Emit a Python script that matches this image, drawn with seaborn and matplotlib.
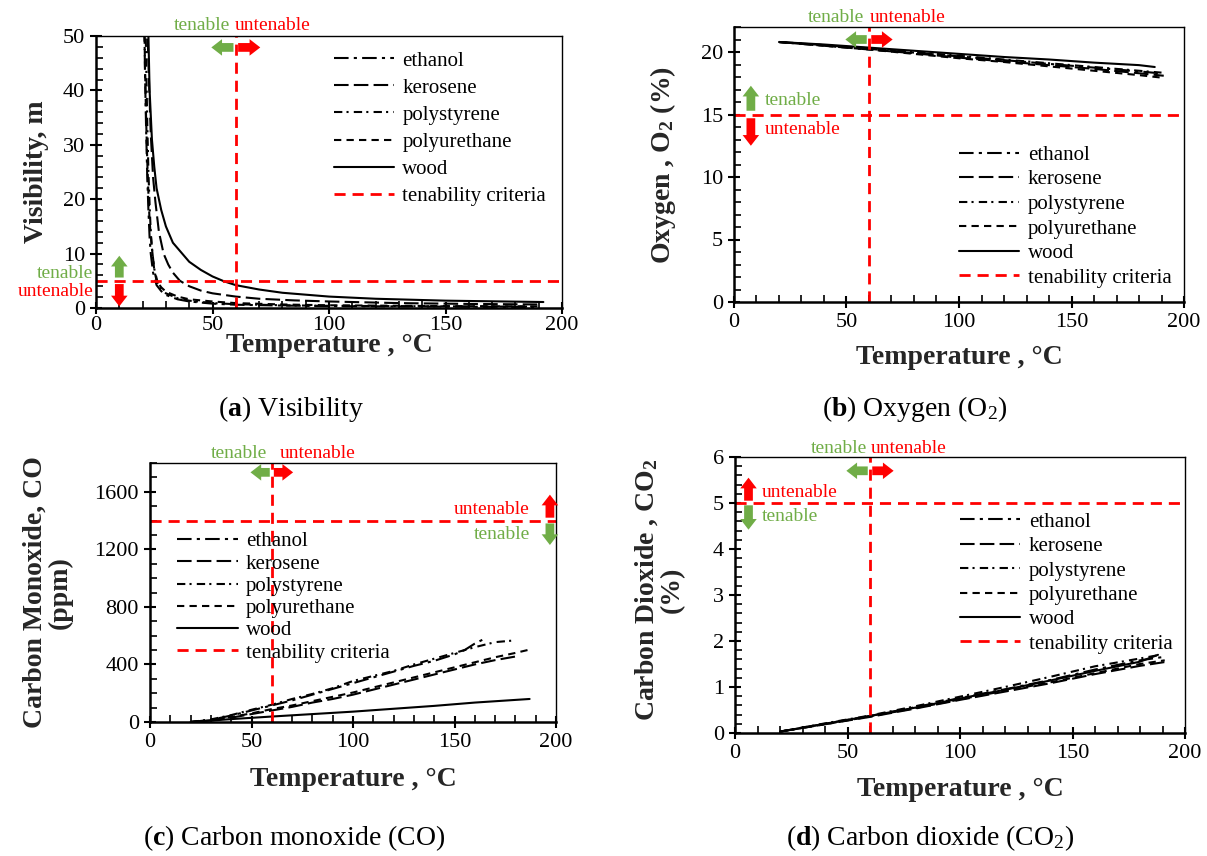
import matplotlib
matplotlib.use("Agg")
import matplotlib.pyplot as plt
import pandas as pd
import seaborn as sns
from matplotlib.lines import Line2D
from matplotlib.ticker import MultipleLocator

sns.set_theme(style="ticks")
plt.rcParams['font.family'] = ['Liberation Serif', 'DejaVu Serif']
plt.rcParams['mathtext.fontset'] = 'custom'
plt.rcParams['mathtext.rm'] = 'Liberation Serif'
plt.rcParams['mathtext.bf'] = 'Liberation Serif:bold'
plt.rcParams['mathtext.it'] = 'Liberation Serif:italic'
plt.rcParams['text.color'] = 'black'
plt.rcParams['axes.edgecolor'] = 'black'
plt.rcParams['xtick.color'] = 'black'
plt.rcParams['ytick.color'] = 'black'

GREEN = '#70AD47'
RED = '#FF0000'

fuels = ['ethanol', 'kerosene', 'polystyrene', 'polyurethane', 'wood']
legend_labels = fuels + ['tenability criteria']

# ---------------- (a) Visibility [m] vs temperature [°C] ----------------
vis_T = {
    'ethanol':      [20.5, 21, 21.5, 22, 22.5, 23, 23.5, 24.5, 26, 28, 30, 35, 40, 50, 60, 80, 100, 150, 190],
    'kerosene':     [21.5, 22.5, 23.5, 24.5, 25.5, 27, 29, 31, 33, 36, 40, 45, 50, 60, 70, 85, 100, 130, 160, 190],
    'polystyrene':  [21, 21.5, 22, 22.5, 23, 23.5, 24, 25, 26.5, 28, 30, 35, 40, 50, 60, 80, 100, 150, 185],
    'polyurethane': [20.5, 21, 21.5, 22, 22.5, 23, 24, 25, 26, 28, 30, 35, 40, 50, 60, 80, 100, 150, 190],
    'wood':         [22, 22.5, 23, 24, 25, 26, 28, 30, 33, 36, 40, 45, 50, 55, 60, 70, 80, 100, 120, 150, 175, 192],
}
vis_V = {
    'ethanol':      [60, 44, 33, 24, 18, 13, 10, 6.5, 4.2, 3.1, 2.4, 1.6, 1.2, 0.8, 0.6, 0.45, 0.35, 0.25, 0.2],
    'kerosene':     [60, 45, 32, 24, 19.5, 14, 10, 8, 6.5, 5, 4, 3.2, 2.7, 2.1, 1.7, 1.4, 1.2, 0.9, 0.75, 0.65],
    'polystyrene':  [60, 46, 34, 25, 19, 14, 11, 7.2, 4.6, 3.5, 2.7, 1.8, 1.35, 0.9, 0.7, 0.5, 0.4, 0.3, 0.25],
    'polyurethane': [60, 45, 35, 27, 21, 16, 11, 7, 5, 3.8, 3.0, 2.1, 1.6, 1.2, 0.9, 0.65, 0.5, 0.35, 0.3],
    'wood':         [60, 50, 40, 31, 26, 22, 18, 15, 12, 10.5, 8.5, 7, 5.8, 4.9, 4.2, 3.4, 2.8, 2.1, 1.7, 1.35, 1.2, 1.1],
}

# ---------------- (b) Oxygen [%] ----------------
o2_T = {
    'ethanol':      [20, 40, 60, 80, 100, 120, 140, 160, 180, 189],
    'kerosene':     [20, 40, 60, 80, 100, 120, 140, 160, 180, 191],
    'polystyrene':  [20, 40, 60, 80, 100, 120, 140, 160, 180, 190],
    'polyurethane': [20, 40, 60, 80, 100, 120, 140, 160, 180, 190],
    'wood':         [20, 40, 60, 80, 100, 120, 140, 160, 180, 187],
}
o2_V = {
    'ethanol':      [20.8, 20.55, 20.25, 19.95, 19.65, 19.35, 19.05, 18.75, 18.45, 18.3],
    'kerosene':     [20.8, 20.5, 20.2, 19.9, 19.55, 19.25, 18.95, 18.65, 18.3, 18.1],
    'polystyrene':  [20.8, 20.55, 20.3, 20.0, 19.7, 19.4, 19.1, 18.8, 18.5, 18.35],
    'polyurethane': [20.8, 20.5, 20.2, 19.85, 19.5, 19.2, 18.85, 18.5, 18.15, 17.95],
    'wood':         [20.8, 20.6, 20.35, 20.1, 19.85, 19.6, 19.4, 19.15, 18.95, 18.8],
}

# ---------------- (c) Carbon monoxide [ppm] ----------------
co_T = {
    'ethanol':      [20, 30, 40, 50, 60, 70, 80, 90, 100, 110, 120, 130, 140, 150, 155, 160, 165],
    'kerosene':     [20, 30, 40, 50, 60, 70, 80, 90, 100, 110, 120, 130, 140, 150, 160, 170, 180],
    'polystyrene':  [20, 30, 40, 50, 60, 70, 80, 90, 100, 110, 120, 130, 140, 150, 160, 170, 178],
    'polyurethane': [20, 30, 40, 50, 60, 70, 80, 90, 100, 110, 120, 130, 140, 150, 160, 170, 180, 186],
    'wood':         [20, 40, 60, 80, 100, 120, 140, 160, 187],
}
co_V = {
    'ethanol':      [0, 15, 45, 80, 115, 150, 190, 230, 270, 310, 350, 390, 425, 470, 500, 545, 580],
    'kerosene':     [0, 10, 30, 55, 80, 105, 135, 160, 190, 225, 260, 295, 330, 365, 400, 430, 455],
    'polystyrene':  [0, 18, 48, 85, 120, 160, 195, 235, 285, 320, 355, 400, 440, 480, 520, 555, 565],
    'polyurethane': [0, 12, 35, 60, 90, 115, 145, 175, 205, 240, 275, 310, 345, 380, 415, 450, 480, 500],
    'wood':         [0, 20, 38, 55, 72, 92, 112, 135, 160],
}

# ---------------- (d) Carbon dioxide [%] ----------------
co2_T = {
    'ethanol':      [20, 40, 60, 80, 100, 120, 140, 160, 180, 190],
    'kerosene':     [20, 40, 60, 80, 100, 120, 140, 160, 180, 192],
    'polystyrene':  [20, 40, 60, 80, 100, 120, 140, 160, 180, 189],
    'polyurethane': [20, 40, 60, 80, 100, 120, 140, 160, 180, 191],
    'wood':         [20, 40, 60, 80, 100, 120, 140, 160, 180, 188],
}
co2_V = {
    'ethanol':      [0.03, 0.2, 0.37, 0.56, 0.76, 0.95, 1.15, 1.38, 1.58, 1.65],
    'kerosene':     [0.03, 0.19, 0.35, 0.53, 0.72, 0.9, 1.08, 1.28, 1.46, 1.55],
    'polystyrene':  [0.03, 0.21, 0.38, 0.58, 0.79, 1.0, 1.22, 1.45, 1.62, 1.7],
    'polyurethane': [0.03, 0.19, 0.36, 0.54, 0.73, 0.92, 1.1, 1.3, 1.5, 1.58],
    'wood':         [0.03, 0.2, 0.37, 0.55, 0.75, 0.94, 1.14, 1.35, 1.55, 1.7],
}

dash_map = {
    'ethanol': (7, 2.5, 1.5, 2.5),
    'kerosene': (7, 2.5),
    'polystyrene': (4, 2, 1, 2.5),
    'polyurethane': (3.5, 2.5),
    'wood': '',
}
RED_DASH = (0, (4, 2.5))
LABEL_FS = 20
LEG_FS = 15


def long_df(Td, Vd):
    rows = []
    for f in fuels:
        for t, v in zip(Td[f], Vd[f]):
            rows.append((f, t, v))
    return pd.DataFrame(rows, columns=['fuel', 'T', 'val'])


fig = plt.figure(figsize=(12.07, 8.56), dpi=100)
W, H = 1207, 856


def add_ax(l, r, t, b):
    return fig.add_axes([l / W, 1 - b / H, (r - l) / W, (b - t) / H])


axa = add_ax(96, 562, 36, 308)
axb = add_ax(734, 1184, 27, 302)
axc = add_ax(150, 556, 463, 722)
axd = add_ax(735, 1185, 457, 733)


def draw(ax, Td, Vd, ylim, ymajor, yminor, crit):
    df = long_df(Td, Vd)
    sns.lineplot(data=df, x='T', y='val', style='fuel', style_order=fuels,
                 dashes=dash_map, color='black', estimator=None, sort=False,
                 legend=False, lw=1.5, ax=ax)
    ax.axvline(60, color=RED, ls=RED_DASH, lw=2)
    ax.axhline(crit, color=RED, ls=RED_DASH, lw=2)
    ax.set_xlim(0, 200)
    ax.set_ylim(*ylim)
    ax.xaxis.set_major_locator(MultipleLocator(50))
    ax.xaxis.set_minor_locator(MultipleLocator(10))
    ax.yaxis.set_major_locator(MultipleLocator(ymajor))
    ax.yaxis.set_minor_locator(MultipleLocator(yminor))
    ax.tick_params(which='major', direction='inout', length=9, width=1.5,
                   labelsize=16)
    ax.tick_params(which='minor', direction='in', length=5, width=1.2)
    for s in ax.spines.values():
        s.set_linewidth(1.0)
        s.set_color('black')
    ax.spines['left'].set_linewidth(1.8)
    ax.spines['bottom'].set_linewidth(1.8)
    ax.set_xlabel('Temperature , °C', fontsize=LABEL_FS, fontweight='bold')
    ax.set_ylabel('')


def legend(ax, loc_xy, spacing):
    handles = [Line2D([], [], color='black', lw=1.5, dashes=dash_map[f]) if dash_map[f]
               else Line2D([], [], color='black', lw=1.5) for f in fuels]
    handles.append(Line2D([], [], color=RED, lw=2, ls=RED_DASH))
    ax.legend(handles, legend_labels, loc='upper left', bbox_to_anchor=loc_xy,
              frameon=False, fontsize=LEG_FS, handlelength=2.9,
              handletextpad=0.4, labelspacing=spacing, borderaxespad=0,
              borderpad=0)


def arrow(ax, start, end, color, scale=14):
    ax.annotate('', xy=end, xytext=start, xycoords='data', textcoords='data',
                annotation_clip=False,
                arrowprops=dict(arrowstyle='simple,head_length=0.55,head_width=0.85,tail_width=0.45',
                                mutation_scale=scale, color=color, lw=0,
                                shrinkA=0, shrinkB=0))


def top_marks(ax, ytext, yarrow, lx=57.5, rx=59.5):
    tr = ax.get_xaxis_transform()
    ax.text(lx, ytext, 'tenable', color=GREEN, fontsize=14, ha='right',
            va='center', transform=tr)
    ax.text(rx, ytext, 'untenable', color=RED, fontsize=14, ha='left',
            va='center', transform=tr)
    arrow(ax, (59, yarrow), (49.5, yarrow), GREEN)
    arrow(ax, (61, yarrow), (70.5, yarrow), RED)


# (a)
draw(axa, vis_T, vis_V, (0, 50), 10, 2, 5)
legend(axa, (0.51, 0.945), 0.36)
top_marks(axa, 1.038, 47.9)
arrow(axa, (10, 5.6), (10, 9.6), GREEN)
arrow(axa, (10, 4.4), (10, 0.3), RED)
axa.text(-0.006, 6.4, 'tenable', color=GREEN, fontsize=14, ha='right', va='center',
         transform=axa.get_yaxis_transform())
axa.text(-0.006, 3.1, 'untenable', color=RED, fontsize=14, ha='right', va='center',
         transform=axa.get_yaxis_transform())
axa.set_ylabel('Visibility, m', fontsize=LABEL_FS, fontweight='bold')
axa.yaxis.set_label_coords(-0.1, 0.5)
axa.xaxis.set_label_coords(0.5, -0.092)
axa.tick_params(axis='x', which='major', pad=1)

# (b)
draw(axb, o2_T, o2_V, (0, 22), 5, 1, 15)
legend(axb, (0.5, 0.57), 0.24)
top_marks(axb, 1.035, 21.0, lx=58, rx=60.5)
arrow(axb, (7.5, 15.3), (7.5, 17.3), GREEN)
arrow(axb, (7.5, 14.7), (7.5, 12.5), RED)
axb.text(13.5, 16.1, 'tenable', color=GREEN, fontsize=14, ha='left', va='center')
axb.text(13.5, 13.8, 'untenable', color=RED, fontsize=14, ha='left', va='center')
axb.set_ylabel('Oxygen , O$_\\mathbf{2}$ (%)', fontsize=LABEL_FS, fontweight='bold')
axb.yaxis.set_label_coords(-0.124, 0.5)
axb.xaxis.set_label_coords(0.5, -0.155)

# (c)
draw(axc, co_T, co_V, (0, 1800), 400, 100, 1400)
legend(axc, (0.067, 0.735), 0.13)
top_marks(axc, 1.035, 1735, lx=57.5, rx=64)
arrow(axc, (197, 1420), (197, 1580), RED)
arrow(axc, (197, 1380), (197, 1230), GREEN)
axc.text(187, 1480, 'untenable', color=RED, fontsize=14, ha='right', va='center')
axc.text(187, 1300, 'tenable', color=GREEN, fontsize=14, ha='right', va='center')
axc.set_ylabel('Carbon Monoxide, CO\n(ppm)', fontsize=LABEL_FS, fontweight='bold',
               linespacing=1.0)
axc.yaxis.set_label_coords(-0.19, 0.5)
axc.xaxis.set_label_coords(0.5, -0.175)

# (d)
draw(axd, co2_T, co2_V, (0, 6), 1, 0.2, 5)
legend(axd, (0.5, 0.80), 0.23)
top_marks(axd, 1.03, 5.7, lx=58.5, rx=60.5)
arrow(axd, (6, 5.05), (6, 5.55), RED)
arrow(axd, (6, 4.95), (6, 4.42), GREEN)
axd.text(12, 5.22, 'untenable', color=RED, fontsize=14, ha='left', va='center')
axd.text(12, 4.7, 'tenable', color=GREEN, fontsize=14, ha='left', va='center')
axd.set_ylabel('Carbon Dioxide , CO$_\\mathbf{2}$\n(%)', fontsize=LABEL_FS,
               fontweight='bold', linespacing=1.0)
axd.yaxis.set_label_coords(-0.111, 0.52)
axd.xaxis.set_label_coords(0.5, -0.16)

# captions
cap = dict(fontsize=20, ha='center', va='center')
fig.text(291 / W, 1 - 409 / H, r'($\mathbf{a}$) Visibility', **cap)
fig.text(915 / W, 1 - 409 / H, r'($\mathbf{b}$) Oxygen (O$_{2}$)', **cap)
fig.text(294 / W, 1 - 838 / H, r'($\mathbf{c}$) Carbon monoxide (CO)', **cap)
fig.text(930 / W, 1 - 838 / H, r'($\mathbf{d}$) Carbon dioxide (CO$_{2}$)', **cap)

fig.savefig('out.png', dpi=100, facecolor='white')
